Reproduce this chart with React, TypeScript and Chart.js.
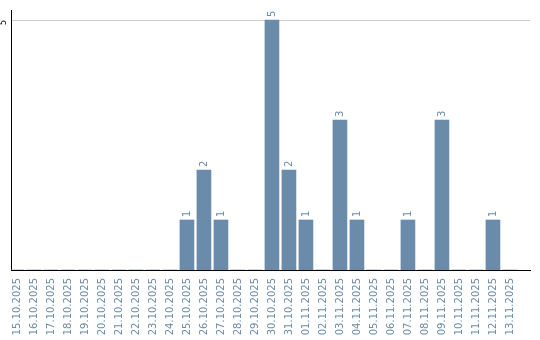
import React, { useEffect, useRef } from 'react';
import { Chart, CategoryScale, registerables } from 'chart.js';

const dates = [
  '15.10.2025', '16.10.2025', '17.10.2025', '18.10.2025', '19.10.2025',
  '20.10.2025', '21.10.2025', '22.10.2025', '23.10.2025', '24.10.2025',
  '25.10.2025', '26.10.2025', '27.10.2025', '28.10.2025', '29.10.2025',
  '30.10.2025', '31.10.2025', '01.11.2025', '02.11.2025', '03.11.2025',
  '04.11.2025', '05.11.2025', '06.11.2025', '07.11.2025', '08.11.2025',
  '09.11.2025', '10.11.2025', '11.11.2025', '12.11.2025', '13.11.2025',
];
const counts = [
  0, 0, 0, 0, 0,
  0, 0, 0, 0, 0,
  1, 2, 1, 0, 0,
  5, 2, 1, 0, 3,
  1, 0, 0, 1, 0,
  3, 0, 0, 1, 0,
];
const yTicks = [5];
const yMax = 5.2;

const BAR_COLOR = 'rgb(106,139,170)';
const TEXT_COLOR = 'rgb(106,139,170)';
const FONT_FAMILY = '"DejaVu Sans", Verdana, sans-serif';

class ShiftedCategoryScale extends CategoryScale {
  static id = 'shiftedCategory';
  static defaults = (CategoryScale as any).defaults;
  configure() {
    super.configure();
    const self = this as any;
    const n = self.getLabels().length;
    self._startValue = -0.35;
    self._valueRange = n + 0.53;
  }
}

Chart.register(...registerables, ShiftedCategoryScale as any);

const labelsPlugin = {
  id: 'valueLabels',
  afterDatasetsDraw(chart: any) {
    const ctx = chart.ctx;
    const meta = chart.getDatasetMeta(0);
    ctx.save();
    ctx.font = `10px ${FONT_FAMILY}`;
    ctx.fillStyle = TEXT_COLOR;
    meta.data.forEach((bar: any, i: number) => {
      const v = counts[i];
      if (!v) return;
      ctx.save();
      ctx.translate(bar.x, bar.y - 3);
      ctx.rotate(-Math.PI / 2);
      ctx.textAlign = 'left';
      ctx.textBaseline = 'middle';
      ctx.fillText(String(v), 0, 0);
      ctx.restore();
    });
    const ys = chart.scales.y;
    ctx.fillStyle = '#000';
    ctx.font = `8px ${FONT_FAMILY}`;
    yTicks.forEach((t) => {
      const y = ys.getPixelForValue(t);
      ctx.save();
      ctx.translate(4, y);
      ctx.rotate(-Math.PI / 2);
      ctx.textAlign = 'right';
      ctx.textBaseline = 'middle';
      ctx.fillText(String(t), 0, 0);
      ctx.restore();
    });
    ctx.restore();
  },
};

export default function App() {
  const ref = useRef<HTMLCanvasElement | null>(null);
  useEffect(() => {
    if (!ref.current) return;
    const chart = new Chart(ref.current, {
      type: 'bar',
      data: {
        labels: dates,
        datasets: [
          {
            data: counts,
            backgroundColor: BAR_COLOR,
            borderWidth: 0,
            barThickness: 14,
          },
        ],
      },
      options: {
        animation: false,
        responsive: false,
        layout: { padding: { top: 10, right: 10, left: 0, bottom: 0 } },
        plugins: { legend: { display: false }, tooltip: { enabled: false } },
        scales: {
          x: {
            type: 'shiftedCategory' as any,
            grid: { display: false, drawTicks: false },
            border: { color: '#000', width: 1 },
            ticks: {
              autoSkip: false,
              minRotation: 90,
              maxRotation: 90,
              padding: 8,
              color: TEXT_COLOR,
              font: { family: FONT_FAMILY, size: 10 },
            },
            afterFit: (s: any) => {
              s.height = 70;
            },
          },
          y: {
            min: 0,
            max: yMax,
            afterBuildTicks: (s: any) => {
              s.ticks = yTicks.map((v) => ({ value: v }));
            },
            grid: { color: '#cccccc', drawTicks: false },
            border: { color: '#000', width: 1 },
            ticks: { display: false },
            afterFit: (s: any) => {
              s.width = 11;
            },
          },
        },
      },
      plugins: [labelsPlugin],
    } as any);
    return () => chart.destroy();
  }, []);
  return (
    <div style={{ position: 'absolute', left: 0, top: 0, width: 540, height: 340 }}>
      <canvas ref={ref} width={540} height={340} />
    </div>
  );
}
